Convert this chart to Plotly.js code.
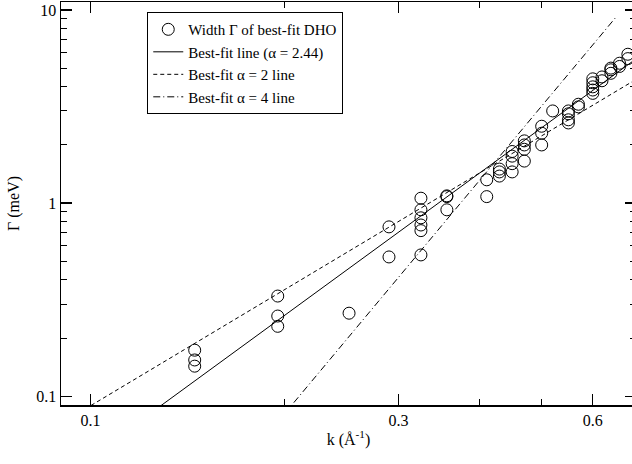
<!DOCTYPE html>
<html><head><meta charset="utf-8">
<script src="https://cdn.plot.ly/plotly-3.0.1.min.js"></script>
<style>html,body{margin:0;padding:0;overflow:hidden;background:#fff}#chart{width:640px;height:464px}</style>
</head><body><div id="chart"></div>
<script>
// Measured widths (k in 1/Å, Γ in meV)
const kData = [0.145,0.145,0.145, 0.195,0.195,0.195, 0.2515, 0.29,0.29,
  0.325,0.325,0.325,0.325,0.325,0.325, 0.3565,0.3565,0.3565,
  0.411,0.411, 0.43,0.43,0.43, 0.45,0.45,0.45,0.45, 0.47,0.47,0.47,0.47,
  0.50,0.50,0.50, 0.52, 0.55,0.55,0.55,0.55, 0.57,0.57,
  0.60,0.60,0.60,0.60,0.60, 0.62,0.62, 0.64,0.64,0.64, 0.66,0.66, 0.68,0.68];
const gammaData = [0.173,0.154,0.143, 0.33,0.26,0.23, 0.269, 0.753,0.526,
  1.06,0.923,0.839,0.77,0.72,0.539, 1.09,1.08,0.923,
  1.08,1.32, 1.38,1.45,1.5, 1.45,1.6,1.75,1.85, 1.65,1.9,2.0,2.1,
  2.0,2.3,2.5, 3.0, 2.6,2.7,2.9,3.0, 3.15,3.25,
  3.7,3.85,4.0,4.2,4.4, 4.3,4.5, 4.7,4.9,5.0, 5.1,5.3, 5.6,5.9];
// Fit lines Γ = A k^alpha
const fitNames = ['Best-fit line (α = 2.44)','Best-fit α = 2 line','Best-fit α = 4 line'];
const fitAlpha = [2.44, 2, 4];
const fitA = [13.33, 8.92, 50.9];
const fitKmin = [0.12, 0.09, 0.2];
const fitKmax = [0.7, 0.7, 0.65];
const fitDash = ['solid','4px,3px','7px,3px,1px,3px'];
const xTickVals = [0.1,0.3,0.6];
const xTickText = ['0.1','0.3','0.6'];
const xMinor = [0.2,0.4,0.5];
const yTickVals = [0.1,1,10];
const yTickText = ['0.1','1','10'];
const yMinor = [0.2,0.3,0.4,0.5,0.6,0.7,0.8,0.9,2,3,4,5,6,7,8,9];

const traces = [{
  x: kData, y: gammaData, type:'scatter', mode:'markers',
  name:'Width Γ of best-fit DHO',
  marker:{symbol:'circle-open', size:12, color:'#000', line:{width:1,color:'#000'}}
}];
for (let i=0;i<fitNames.length;i++){
  const ks=[fitKmin[i], fitKmax[i]];
  traces.push({x:ks, y:ks.map(k=>fitA[i]*Math.pow(k,fitAlpha[i])), type:'scatter', mode:'lines',
    name:fitNames[i], line:{color:'#000', width:1, dash:fitDash[i]}});
}
const font = {family:'"Liberation Serif","Times New Roman",serif', size:16, color:'#000'};
const axisCommon = {type:'log', showline:true, linecolor:'#000', linewidth:1.5, mirror:'allticks',
  ticks:'inside', ticklen:11, tickwidth:1.2, tickcolor:'#000', showgrid:false, zeroline:false,
  tickfont:font, tickmode:'array'};
const layout = {
  width:640, height:464, margin:{l:61,r:4,t:2,b:59},
  paper_bgcolor:'#fff', plot_bgcolor:'#fff', font:font, showlegend:true,
  xaxis:Object.assign({}, axisCommon, {range:[Math.log10(0.09), Math.log10(0.7)],
    tickvals:xTickVals, ticktext:xTickText,
    minor:{tickmode:'array', tickvals:xMinor, ticks:'inside', ticklen:6, tickcolor:'#000', tickwidth:1},
    title:{text:'k (Å<sup>-1</sup>)', font:font, standoff:6}}),
  yaxis:Object.assign({}, axisCommon, {range:[Math.log10(0.09), Math.log10(11)],
    tickvals:yTickVals, ticktext:yTickText,
    minor:{tickmode:'array', tickvals:yMinor, ticks:'inside', ticklen:6, tickcolor:'#000', tickwidth:1},
    title:{text:'Γ (meV)', font:font, standoff:12}}),
  legend:{x:0.15, y:0.975, xanchor:'left', yanchor:'top', bgcolor:'#fff', bordercolor:'#000', borderwidth:1,
    font:{family:font.family, size:15, color:'#000'}, itemwidth:30, tracegroupgap:0}
};
Plotly.newPlot('chart', traces, layout, {staticPlot:true, displayModeBar:false});
</script></body></html>
